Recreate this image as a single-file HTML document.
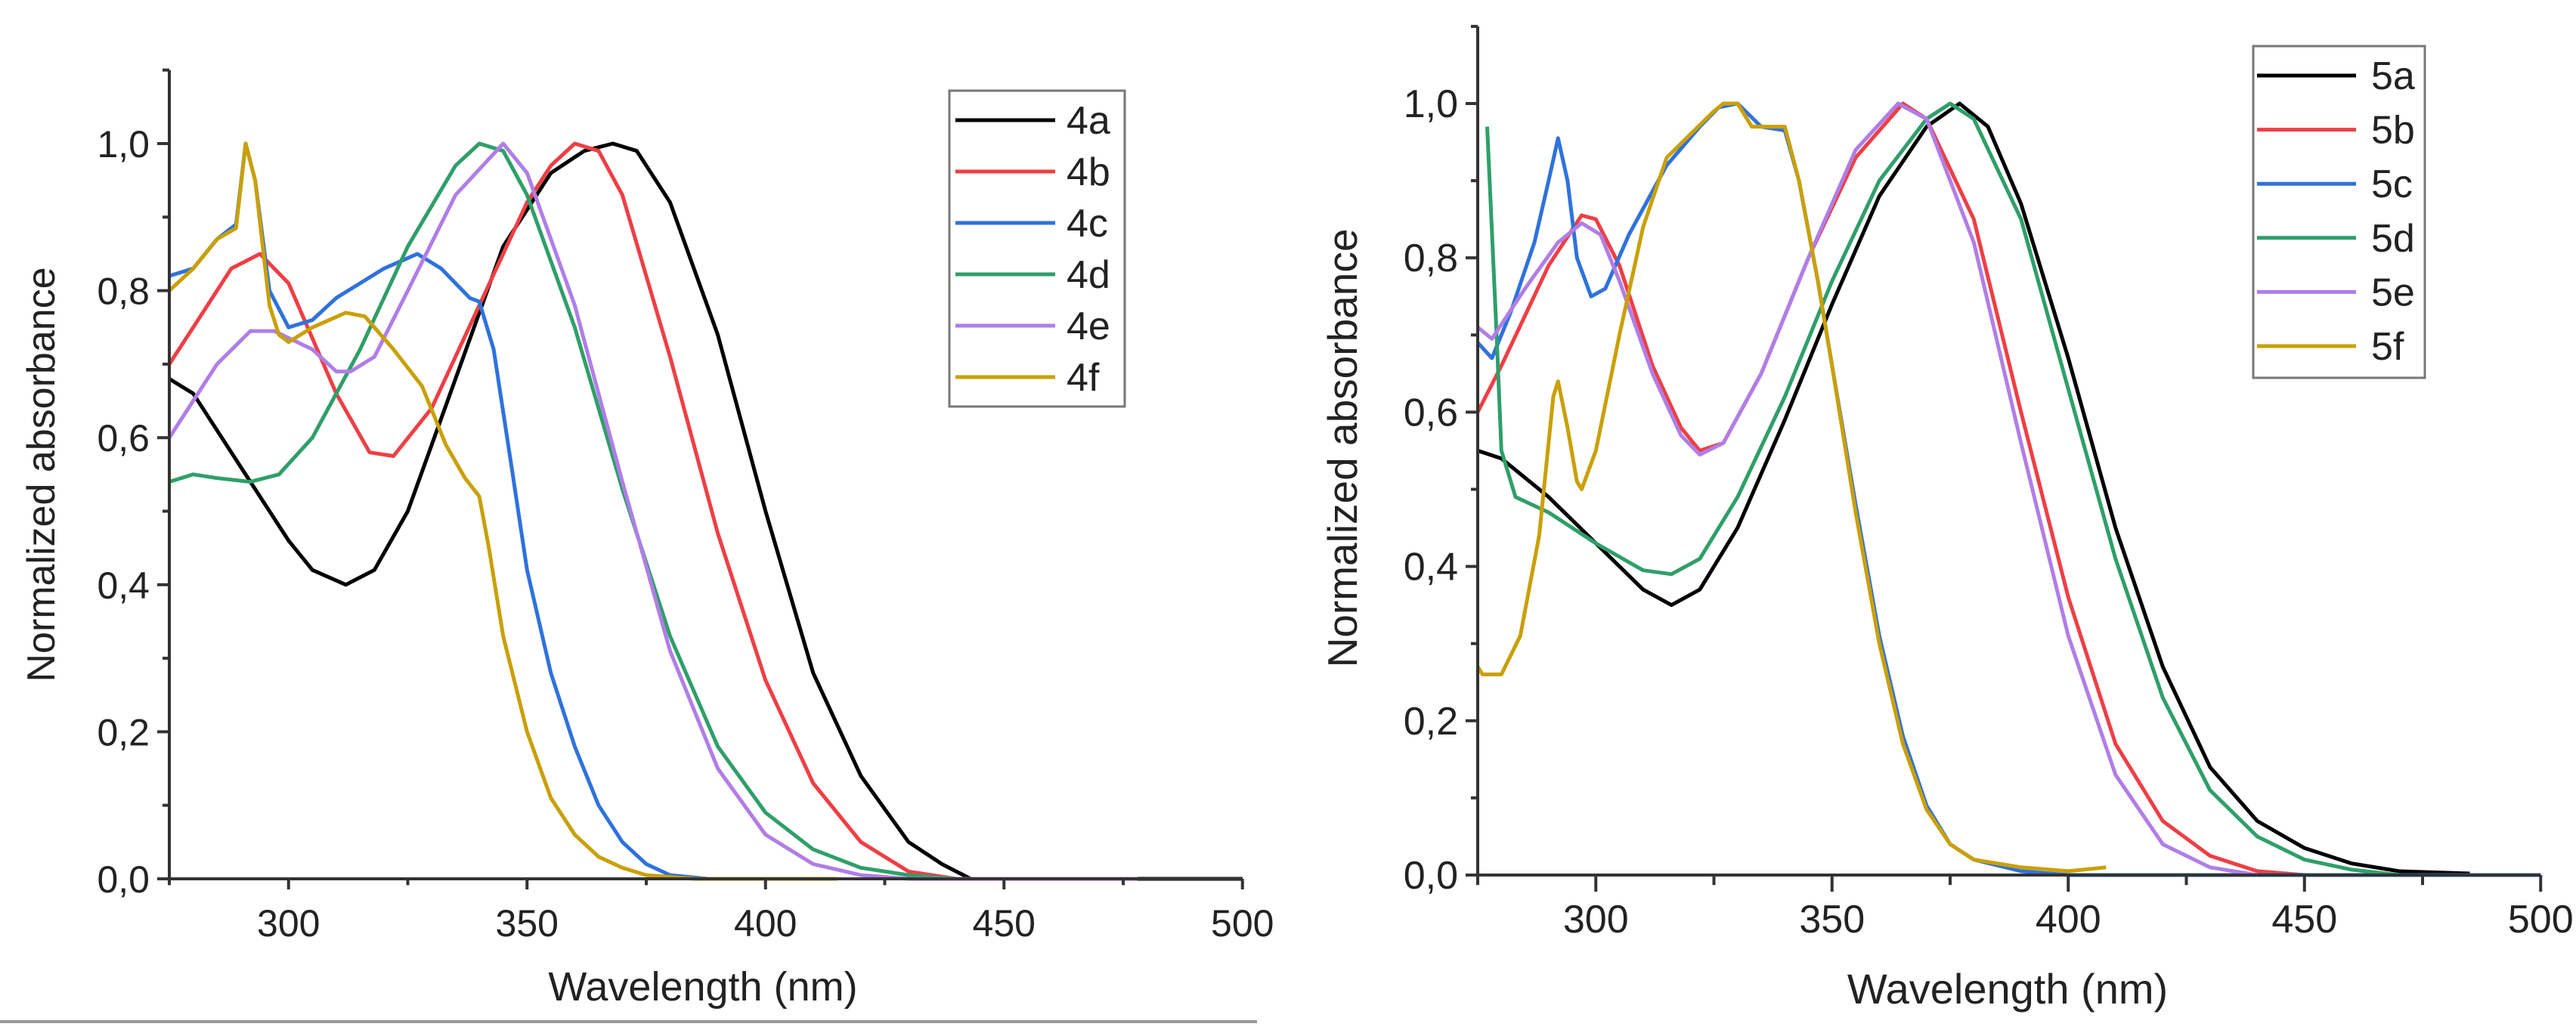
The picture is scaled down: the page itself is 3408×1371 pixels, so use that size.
<!DOCTYPE html>
<html><head><meta charset="utf-8"><style>
html,body{margin:0;padding:0;background:#fff;}
svg{display:block;font-family:"Liberation Sans",sans-serif;}
</style></head><body>
<svg id="chart" width="3408" height="1371" viewBox="0 0 3408 1371" xmlns="http://www.w3.org/2000/svg">
<rect x="0" y="0" width="3408" height="1371" fill="#fff"/>
<line x1="0" y1="1352" x2="1663" y2="1352" stroke="#999" stroke-width="4"/>
</svg>
<script>
const xTicks=[300,350,400,450,500];
const yTicks=[0,0.2,0.4,0.6,0.8,1.0];
const yTickLabels=["0,0","0,2","0,4","0,6","0,8","1,0"];
const namesA=["4a","4b","4c","4d","4e","4f"];
const namesB=["5a","5b","5c","5d","5e","5f"];
const colors=["#000000","#ee3f45","#2f72dc","#2f9f6a","#b07ee6","#c9a006"];
const s4a=[[275,.68],[280,.66],[290,.56],[300,.46],[305,.42],[312,.40],[318,.42],[325,.50],[335,.68],[345,.86],[355,.96],[362,.99],[368,1.0],[373,.99],[380,.92],[390,.74],[400,.50],[410,.28],[420,.14],[430,.05],[437,.02],[443,0],[500,0]];
const s4b=[[275,.70],[280,.75],[288,.83],[294,.85],[300,.81],[310,.66],[317,.58],[322,.575],[330,.64],[340,.78],[350,.92],[355,.97],[360,1.0],[365,.99],[370,.93],[380,.71],[390,.47],[400,.27],[410,.13],[420,.05],[430,.01],[440,0]];
const s4c=[[275,.82],[280,.83],[285,.87],[289,.89],[291,1.0],[293,.95],[296,.80],[300,.75],[305,.76],[310,.79],[320,.83],[327,.85],[332,.83],[338,.79],[340,.785],[343,.72],[347,.55],[350,.42],[355,.28],[360,.18],[365,.10],[370,.05],[375,.02],[380,.005],[388,0]];
const s4d=[[275,.54],[280,.55],[285,.545],[292,.54],[298,.55],[305,.60],[315,.72],[325,.86],[335,.97],[340,1.0],[345,.99],[350,.93],[360,.75],[370,.53],[380,.33],[390,.18],[400,.09],[410,.04],[420,.015],[430,.005],[440,0]];
const s4e=[[275,.60],[285,.70],[292,.745],[297,.745],[305,.72],[310,.69],[313,.69],[318,.71],[325,.80],[335,.93],[345,1.0],[350,.96],[360,.78],[370,.54],[380,.31],[390,.15],[400,.06],[410,.02],[420,.005],[430,0],[478,0]];
const s4f=[[275,.80],[280,.83],[285,.87],[289,.885],[291,1.0],[293,.95],[296,.78],[298,.74],[300,.73],[305,.75],[312,.77],[316,.765],[322,.72],[328,.67],[333,.59],[337,.545],[340,.52],[342,.45],[345,.33],[350,.20],[355,.11],[360,.06],[365,.03],[370,.015],[375,.005],[385,0],[415,0]];
const s5a=[[275,.55],[280,.54],[290,.49],[300,.43],[310,.37],[316,.35],[322,.37],[330,.45],[340,.59],[350,.74],[360,.88],[370,.97],[377,1.0],[383,.97],[390,.87],[400,.67],[410,.45],[420,.27],[430,.14],[440,.07],[450,.035],[460,.015],[470,.005],[485,.002]];
const s5b=[[275,.60],[280,.66],[290,.79],[297,.855],[300,.85],[305,.79],[312,.66],[318,.58],[322,.55],[327,.56],[335,.65],[345,.80],[355,.93],[365,1.0],[370,.98],[380,.85],[390,.60],[400,.36],[410,.17],[420,.07],[430,.025],[440,.005],[450,0]];
const s5c=[[275,.69],[278,.67],[282,.73],[287,.82],[290,.90],[292,.955],[294,.90],[296,.80],[299,.75],[302,.76],[307,.83],[315,.92],[322,.97],[326,.995],[330,1.0],[335,.97],[340,.965],[343,.90],[347,.77],[350,.66],[355,.48],[360,.31],[365,.18],[370,.09],[375,.04],[380,.02],[390,.005],[400,0],[500,0]];
const s5d=[[277,.97],[279,.70],[280,.55],[283,.49],[290,.47],[300,.43],[310,.395],[316,.39],[322,.41],[330,.49],[340,.62],[350,.77],[360,.90],[370,.98],[375,1.0],[380,.98],[390,.85],[400,.63],[410,.41],[420,.23],[430,.11],[440,.05],[450,.02],[460,.007],[470,0]];
const s5e=[[275,.71],[278,.695],[285,.76],[292,.82],[297,.845],[301,.83],[305,.77],[312,.65],[318,.57],[322,.545],[327,.56],[335,.65],[345,.80],[355,.94],[364,1.0],[370,.98],[380,.82],[390,.56],[400,.31],[410,.13],[420,.04],[430,.01],[440,0]];
const s5f=[[275,.27],[276,.26],[280,.26],[284,.31],[288,.44],[291,.62],[292,.64],[294,.58],[296,.51],[297,.50],[300,.55],[305,.70],[310,.84],[315,.93],[320,.96],[325,.99],[327,1.0],[330,1.0],[333,.97],[340,.97],[343,.90],[347,.77],[350,.66],[355,.47],[360,.30],[365,.17],[370,.085],[375,.04],[380,.02],[390,.01],[400,.005],[408,.01]];
const seriesA=[s4a,s4b,s4c,s4d,s4e,s4f];
const seriesB=[s5a,s5b,s5c,s5d,s5e,s5f];
const NS="http://www.w3.org/2000/svg";
const svg=document.getElementById('chart');
function mk(tag,attrs,parent){const e=document.createElementNS(NS,tag);for(const k in attrs)e.setAttribute(k,attrs[k]);(parent||svg).appendChild(e);return e;}
function panel(cfg,names,series,prefix){
  const g=mk('g',{});
  
  
  const xs=v=>cfg.x0+(v-275)*cfg.pxnm;
  const ys=v=>cfg.y0-v*cfg.pxu;
  series.forEach((s,i)=>{
    const d=s.map((p,j)=>(j?'L':'M')+xs(p[0]).toFixed(1)+' '+ys(p[1]).toFixed(1)).join(' ');
    const p=mk('path',{d:d,fill:'none',stroke:colors[i],'stroke-width':5,'stroke-linejoin':'round'},g);
    
    
  });
  const ax=mk('path',{d:`M${xs(275)} ${ys(1.1)} L${xs(275)} ${ys(0)} L${xs(500)} ${ys(0)}`,fill:'none',stroke:'#333','stroke-width':4},g);
  
  
  for(let v=275;v<=500;v+=25){
    const major=v%50===0;
    mk('line',{x1:xs(v),x2:xs(v),y1:ys(0),y2:ys(0)+(major?cfg.tk:cfg.tk*0.6),stroke:'#333','stroke-width':4},g);
  }
  for(let k=0;k<=11;k++){
    const v=k/10;const major=k%2===0;
    mk('line',{x1:xs(275),x2:xs(275)-(major?16:9),y1:ys(v),y2:ys(v),stroke:'#333','stroke-width':4},g);
  }
  xTicks.forEach(v=>{
    const t=mk('text',{x:xs(v),y:ys(0)+cfg.xlo,'font-size':cfg.fs,'text-anchor':'middle',fill:'#222'},g);
    t.textContent=v;
    
    
  });
  yTicks.forEach((v,i)=>{
    const t=mk('text',{x:xs(275)-26,y:ys(v)+18,'font-size':cfg.fs,'text-anchor':'end',fill:'#222'},g);
    t.textContent=yTickLabels[i];
    
    
  });
  const xt=mk('text',{x:cfg.xtx,y:cfg.xty,'font-size':cfg.tfs,'text-anchor':'middle',fill:'#222'},g);
  xt.textContent='Wavelength (nm)';
  
  
  const yt=mk('text',{x:0,y:0,'font-size':cfg.yfs,'text-anchor':'middle',fill:'#222',transform:`translate(${cfg.ytx},${cfg.yty}) rotate(-90)`},g);
  yt.textContent='Normalized absorbance';
  
  
  const lg=mk('g',{},g);
  
  
  mk('rect',{x:cfg.lx,y:cfg.ly,width:cfg.lw,height:cfg.lh,fill:'#fff',stroke:'#777','stroke-width':3},lg);
  names.forEach((n,i)=>{
    const y=cfg.ly0+i*cfg.lsp;
    const e=mk('g',{},lg);
    
    
    mk('line',{x1:cfg.ll1,x2:cfg.ll2,y1:y,y2:y,stroke:colors[i],'stroke-width':5},e);
    const t=mk('text',{x:cfg.ltx,y:y+18,'font-size':52,fill:'#222'},e);
    t.textContent=n;
  });
}
panel({x0:224,pxnm:6.31,y0:1163,pxu:973,tk:14,xlo:76,fs:50,tfs:54,yfs:52,xtx:930,xty:1324,ytx:72,yty:628,lx:1256,ly:120,lw:232,lh:418,ly0:159,lsp:68,ll1:1264,ll2:1396,ltx:1411},namesA,seriesA,'left');
panel({x0:1955,pxnm:6.25,y0:1158,pxu:1021,tk:22,xlo:76,fs:52,tfs:56,yfs:55,xtx:2656,xty:1328,ytx:1795,yty:593,lx:2981,ly:61,lw:227,lh:439,ly0:100,lsp:71.6,ll1:2986,ll2:3117,ltx:3137},namesB,seriesB,'right');
</script>
</body></html>
